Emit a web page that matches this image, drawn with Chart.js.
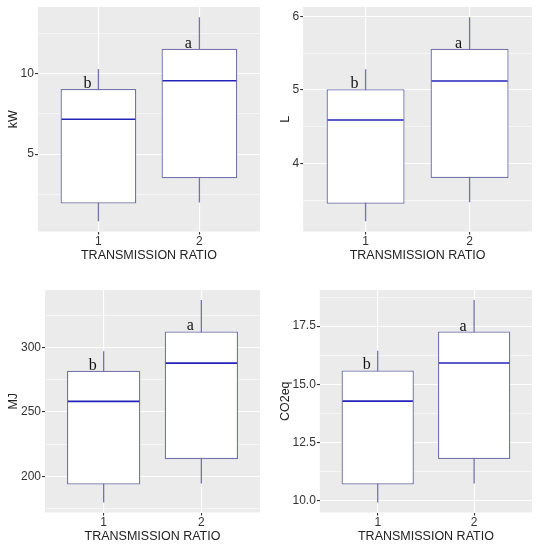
<!DOCTYPE html>
<html>
<head>
<meta charset="utf-8">
<script src="https://cdn.jsdelivr.net/npm/chart.js@4.4.1/dist/chart.umd.min.js"></script>
<style>
    body { margin: 0; background: #fff; width: 541px; height: 550px; position: relative; overflow: hidden; }
    canvas { position: absolute; }
</style>
</head>
<body>
<canvas id="kwChart" width="270" height="272" style="left:0;top:0"></canvas>
<canvas id="lChart" width="271" height="272" style="left:270px;top:0"></canvas>
<canvas id="mjChart" width="270" height="267" style="left:0;top:283px"></canvas>
<canvas id="co2Chart" width="271" height="267" style="left:270px;top:283px"></canvas>
<script>
const groups = [1, 2];
const letters = ['b', 'a'];
const xTitle = 'TRANSMISSION RATIO';

// kW
const kwMin = [0.84, 2.00];
const kwQ1 = [1.94, 3.50];
const kwMed = [7.16, 9.54];
const kwQ3 = [9.04, 11.53];
const kwMax = [10.27, 13.48];

// L
const lMin = [3.21, 3.47];
const lQ1 = [3.45, 3.80];
const lMed = [4.59, 5.12];
const lQ3 = [5.01, 5.56];
const lMax = [5.28, 5.99];

// MJ
const mjMin = [179.7, 194.4];
const mjQ1 = [193.6, 213.3];
const mjMed = [258.2, 287.9];
const mjQ3 = [282.1, 312.6];
const mjMax = [297.2, 336.9];

// CO2eq
const co2Min = [9.93, 10.74];
const co2Q1 = [10.70, 11.79];
const co2Med = [14.28, 15.92];
const co2Q3 = [15.60, 17.27];
const co2Max = [16.44, 18.62];

const sans = '"Liberation Sans", Arial, sans-serif';

const boxExtras = {
    id: 'boxExtras',
    beforeDraw(chart) {
        const a = chart.chartArea;
        const ctx = chart.ctx;
        ctx.save();
        ctx.fillStyle = '#ebebeb';
        ctx.fillRect(a.left, a.top, a.right - a.left, a.bottom - a.top);
        ctx.restore();
    },
    afterDatasetsDraw(chart, args, opts) {
        const ctx = chart.ctx;
        const y = chart.scales.y;
        const meta = chart.getDatasetMeta(1);
        ctx.save();
        meta.data.forEach((bar, i) => {
            const half = bar.width / 2;
            const my = y.getPixelForValue(opts.medians[i]);
            ctx.strokeStyle = '#2323b8';
            ctx.lineWidth = 1.6;
            ctx.beginPath();
            ctx.moveTo(bar.x - half + 1, my);
            ctx.lineTo(bar.x + half - 1, my);
            ctx.stroke();

            ctx.fillStyle = '#111';
            ctx.font = '16px "Liberation Serif", "Times New Roman", serif';
            ctx.textAlign = 'center';
            ctx.textBaseline = 'alphabetic';
            ctx.fillText(opts.letters[i], bar.x - 11, y.getPixelForValue(opts.tops[i]) - 1);
        });
        ctx.restore();
    }
};

function loadBoxChart(container, yLabel, mins, q1s, meds, q3s, maxs, step, decimals, pad) {
    var ctx = document.getElementById(container).getContext('2d');
    var lo = Math.min(...mins), hi = Math.max(...maxs);
    var span = hi - lo;
    var half = step / 2;
    var isMajor = v => Math.abs(v / step - Math.round(v / step)) < 1e-6;

    var chart = new Chart(ctx, {
        type: 'bar',
        data: {
            datasets: [{
                data: groups.map((g, i) => ({ x: g, y: [mins[i], maxs[i]] })),
                backgroundColor: '#7474aa',
                borderWidth: 0,
                maxBarThickness: 1.3,
                grouped: false,
                order: 2,
            }, {
                data: groups.map((g, i) => ({ x: g, y: [q1s[i], q3s[i]] })),
                backgroundColor: '#ffffff',
                borderColor: '#7474aa',
                borderWidth: 1.3,
                borderSkipped: false,
                categoryPercentage: 1,
                barPercentage: 0.75,
                grouped: false,
                order: 1,
            }]
        },
        options: {
            responsive: false,
            animation: false,
            layout: { padding: pad },
            scales: {
                x: {
                    type: 'linear',
                    min: 0.4,
                    max: 2.6,
                    offset: false,
                    afterBuildTicks: s => { s.ticks = groups.map(v => ({ value: v })); },
                    grid: { offset: false, color: '#ffffff', lineWidth: 1.1, tickColor: '#333', tickLength: 3 },
                    border: { display: false },
                    ticks: {
                        callback: v => String(v),
                        color: '#333',
                        font: { family: sans, size: 12, lineHeight: 1 },
                        padding: 1,
                    },
                    title: {
                        display: true,
                        text: xTitle,
                        color: '#222',
                        font: { family: sans, size: 12.5, lineHeight: 1 },
                        padding: { top: 1, bottom: 0 },
                    }
                },
                y: {
                    min: lo - span * 0.05,
                    max: hi + span * 0.05,
                    afterBuildTicks: s => {
                        var t = [];
                        for (var v = Math.ceil(s.min / half) * half; v <= s.max; v += half) {
                            t.push({ value: Math.round(v * 1000) / 1000 });
                        }
                        s.ticks = t;
                    },
                    grid: {
                        color: '#ffffff',
                        lineWidth: c => isMajor(c.tick.value) ? 1.1 : 0.55,
                        tickColor: c => isMajor(c.tick.value) ? '#333' : 'rgba(0,0,0,0)',
                        tickLength: 3,
                    },
                    border: { display: false },
                    ticks: {
                        autoSkip: false,
                        callback: v => isMajor(v) ? v.toFixed(decimals) : '',
                        color: '#333',
                        font: { family: sans, size: 12, lineHeight: 1 },
                        padding: 1,
                    },
                    title: {
                        display: true,
                        text: yLabel,
                        color: '#222',
                        font: { family: sans, size: 12.5, lineHeight: 1 },
                        padding: { top: 0, bottom: 0 },
                    }
                }
            },
            plugins: {
                legend: { display: false },
                tooltip: { enabled: false },
                boxExtras: { medians: meds, tops: q3s, letters: letters },
            }
        },
        plugins: [boxExtras]
    });
    return chart;
}

loadBoxChart('kwChart', 'kW', kwMin, kwQ1, kwMed, kwQ3, kwMax, 5, 0, { top: 7, right: 10, left: 7, bottom: 10 });
loadBoxChart('lChart', 'L', lMin, lQ1, lMed, lQ3, lMax, 1, 0, { top: 7, right: 9, left: 9, bottom: 10 });
loadBoxChart('mjChart', 'MJ', mjMin, mjQ1, mjMed, mjQ3, mjMax, 50, 0, { top: 7, right: 10, left: 7.5, bottom: 7 });
loadBoxChart('co2Chart', 'CO2eq', co2Min, co2Q1, co2Med, co2Q3, co2Max, 2.5, 1, { top: 7, right: 9, left: 9, bottom: 7 });
</script>
</body>
</html>
